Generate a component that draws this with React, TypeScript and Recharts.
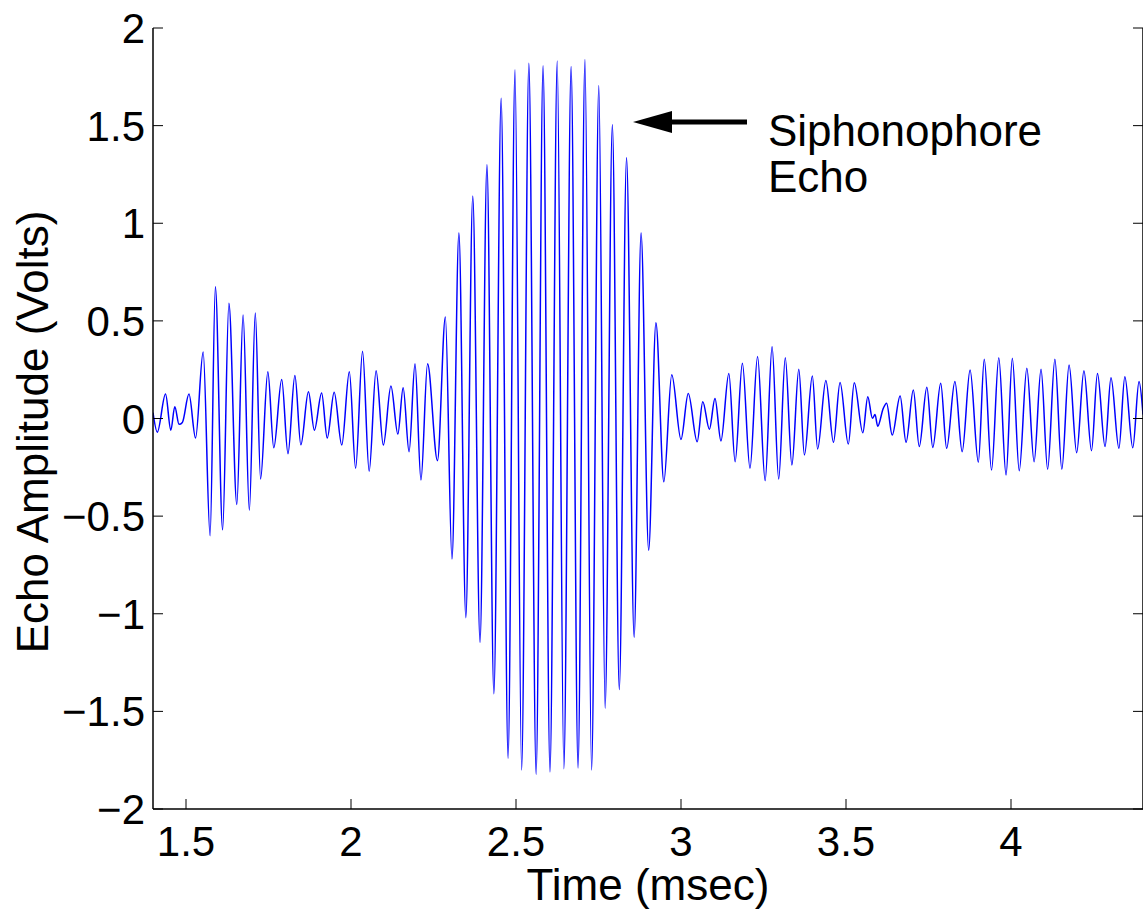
import React from 'react';
import { LineChart, Line, XAxis, YAxis } from 'recharts';

const timeMs = [
  1.400, 1.413, 1.438, 1.454, 1.466, 1.479, 1.489, 1.509, 1.529, 1.552, 1.573, 1.589, 1.611, 1.630, 1.654, 1.673, 1.692, 1.710,
  1.726, 1.748, 1.766, 1.790, 1.809, 1.830, 1.848, 1.871, 1.889, 1.911, 1.928, 1.949, 1.972, 1.995, 2.014, 2.035,
  2.055, 2.076, 2.098, 2.121, 2.142, 2.158, 2.176, 2.194, 2.212, 2.232, 2.262, 2.286,
  2.306, 2.327, 2.348, 2.369, 2.391, 2.412, 2.433, 2.455, 2.476, 2.497, 2.517, 2.539,
  2.561, 2.582, 2.603, 2.625, 2.645, 2.667, 2.688, 2.709, 2.729, 2.751, 2.770,
  2.792, 2.813, 2.835, 2.858, 2.879, 2.902, 2.924, 2.948, 2.972, 3.000, 3.022,
  3.049, 3.066, 3.086, 3.103, 3.121, 3.145, 3.164, 3.186, 3.209, 3.232, 3.255, 3.276, 3.296, 3.316, 3.336, 3.357,
  3.374, 3.398, 3.414, 3.439, 3.462, 3.482, 3.507, 3.525, 3.551, 3.566, 3.580, 3.588, 3.596, 3.613, 3.623, 3.640, 3.664, 3.682, 3.704,
  3.722, 3.745, 3.763, 3.787, 3.805, 3.830, 3.852, 3.876, 3.901, 3.919, 3.941, 3.963, 3.985, 4.004, 4.025, 4.048,
  4.070, 4.091, 4.111, 4.133, 4.154, 4.176, 4.199, 4.221, 4.244, 4.262, 4.285, 4.303, 4.327, 4.345, 4.369, 4.388, 4.400,
];

const echoVolts = [
  0.03, -0.07, 0.125, -0.06, 0.06, -0.03, -0.02, 0.125, -0.10, 0.34, -0.60, 0.675, -0.57, 0.59, -0.44, 0.53, -0.47, 0.54,
  -0.31, 0.24, -0.15, 0.20, -0.18, 0.22, -0.135, 0.137, -0.06, 0.13, -0.10, 0.134, -0.136, 0.24, -0.255, 0.345,
  -0.27, 0.245, -0.136, 0.166, -0.08, 0.158, -0.17, 0.28, -0.315, 0.28, -0.216, 0.52,
  -0.72, 0.95, -1.02, 1.14, -1.146, 1.30, -1.41, 1.64, -1.74, 1.786, -1.80, 1.82,
  -1.823, 1.807, -1.81, 1.831, -1.794, 1.803, -1.79, 1.839, -1.80, 1.706, -1.484,
  1.505, -1.388, 1.336, -1.12, 0.95, -0.675, 0.49, -0.324, 0.224, -0.107, 0.128,
  -0.119, 0.086, -0.055, 0.103, -0.115, 0.231, -0.221, 0.283, -0.255, 0.317, -0.318, 0.368, -0.31, 0.311, -0.238, 0.252,
  -0.187, 0.218, -0.156, 0.194, -0.122, 0.185, -0.131, 0.183, -0.073, 0.112, 0.001, 0.02, -0.04, 0.052, 0.078, -0.085, 0.115, -0.122, 0.146,
  -0.144, 0.16, -0.148, 0.18, -0.153, 0.189, -0.17, 0.248, -0.224, 0.303, -0.264, 0.311, -0.289, 0.308, -0.267, 0.257,
  -0.221, 0.252, -0.26, 0.303, -0.26, 0.274, -0.175, 0.245, -0.165, 0.231, -0.144, 0.209, -0.153, 0.214, -0.15, 0.189, 0.02,
];

const xTicks = [1.5, 2, 2.5, 3, 3.5, 4];
const yTicks = [-2, -1.5, -1, -0.5, 0, 0.5, 1, 1.5, 2];

const xLabel = 'Time (msec)';
const yLabel = 'Echo Amplitude (Volts)';
const noteLines = ['Siphonophore', 'Echo'];

const data = timeMs.map((t, i) => ({ t, v: echoVolts[i] }));

const FONT = '"Liberation Sans", Arial, Helvetica, sans-serif';
const TICK_LEN = 10;
const fmt = (v: number) => String(v).replace('-', '\u2212');

function BottomTick(props: any) {
  const { x, y, payload } = props;
  return (
    <g>
      <line x1={x} y1={y} x2={x} y2={y - TICK_LEN} stroke="#000" strokeWidth={1} />
      <text x={x} y={y + 47} textAnchor="middle" fontSize={42} fontFamily={FONT} fill="#000">
        {fmt(payload.value)}
      </text>
    </g>
  );
}

function TopTick(props: any) {
  const { x, y } = props;
  return <line x1={x} y1={y} x2={x} y2={y + TICK_LEN} stroke="#000" strokeWidth={1} />;
}

function LeftTick(props: any) {
  const { x, y, payload } = props;
  return (
    <g>
      <line x1={x} y1={y} x2={x + TICK_LEN} y2={y} stroke="#000" strokeWidth={1} />
      <text x={x - 8} y={y + 15} textAnchor="end" fontSize={42} fontFamily={FONT} fill="#000">
        {fmt(payload.value)}
      </text>
    </g>
  );
}

function RightTick(props: any) {
  const { x, y } = props;
  return <line x1={x} y1={y} x2={x - TICK_LEN} y2={y} stroke="#000" strokeWidth={1} />;
}

export default function App() {
  return (
    <div style={{ position: 'absolute', left: 0, top: 0, width: 1143, height: 911, overflow: 'hidden', background: '#fff' }}>
      <LineChart width={1145} height={911} data={data} margin={{ top: 28, right: 0, bottom: 0, left: 0 }}>
        <XAxis
          xAxisId="bottom"
          dataKey="t"
          type="number"
          domain={[1.4, 4.4]}
          ticks={xTicks}
          interval={0}
          allowDataOverflow
          height={102}
          tickSize={0}
          tickMargin={0}
          tickLine={false}
          axisLine={{ stroke: '#000', strokeWidth: 1.5 }}
          tick={<BottomTick />}
        />
        <XAxis
          xAxisId="top"
          orientation="top"
          dataKey="t"
          type="number"
          domain={[1.4, 4.4]}
          ticks={xTicks}
          interval={0}
          allowDataOverflow
          height={0}
          tickSize={0}
          tickMargin={0}
          tickLine={false}
          axisLine={{ stroke: '#000', strokeWidth: 1.5 }}
          tick={<TopTick />}
        />
        <YAxis
          yAxisId="left"
          type="number"
          domain={[-2, 2]}
          ticks={yTicks}
          interval={0}
          allowDataOverflow
          width={153}
          tickSize={0}
          tickMargin={0}
          tickLine={false}
          axisLine={{ stroke: '#000', strokeWidth: 1.5 }}
          tick={<LeftTick />}
        />
        <YAxis
          yAxisId="right"
          orientation="right"
          type="number"
          domain={[-2, 2]}
          ticks={yTicks}
          interval={0}
          allowDataOverflow
          width={2}
          tickSize={0}
          tickMargin={0}
          tickLine={false}
          axisLine={{ stroke: '#000', strokeWidth: 1.5 }}
          tick={<RightTick />}
        />
        <Line
          xAxisId="bottom"
          yAxisId="left"
          type="monotone"
          dataKey="v"
          stroke="#0000ff"
          strokeWidth={1.5}
          dot={false}
          isAnimationActive={false}
        />
      </LineChart>

      <svg width={1143} height={911} style={{ position: 'absolute', left: 0, top: 0, pointerEvents: 'none' }}>
        <line x1={668} y1={122} x2={747} y2={122} stroke="#000" strokeWidth={5} />
        <polygon points="633,122 672,111 672,133" fill="#000" />
        {noteLines.map((s, i) => (
          <text key={s} x={768} y={146 + i * 46} fontSize={44} fontFamily={FONT} fill="#000">
            {s}
          </text>
        ))}
        <text x={648} y={900} textAnchor="middle" fontSize={44} fontFamily={FONT} fill="#000">
          {xLabel}
        </text>
        <text
          x={48}
          y={432}
          transform="rotate(-90 48 432)"
          textAnchor="middle"
          fontSize={44}
          fontFamily={FONT}
          fill="#000"
        >
          {yLabel}
        </text>
      </svg>
    </div>
  );
}
